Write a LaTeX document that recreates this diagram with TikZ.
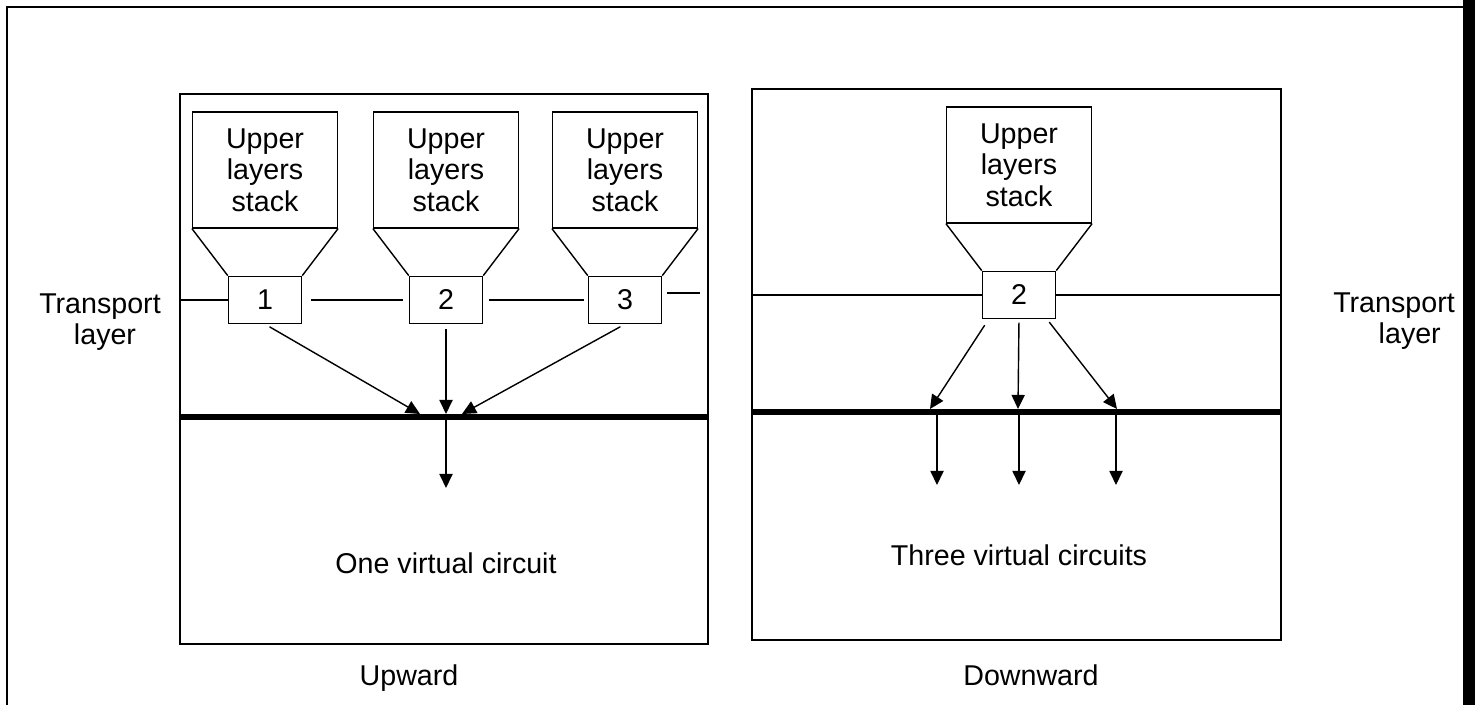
\documentclass[tikz,border=0pt]{standalone}
\usepackage{fontspec}
\setmainfont{Liberation Sans}
\usetikzlibrary{positioning,arrows.meta}

\begin{document}
\begin{tikzpicture}[x=0.02cm, y=-0.02cm, >={Triangle[length=8pt,width=7.5pt]},
  every node/.style={font=\fontsize{16.3}{18}\selectfont},
  stackbox/.style={draw, line width=0.7pt, align=center, minimum width=2.9cm, minimum height=2.32cm, inner sep=0pt},
  portbox/.style={draw, line width=0.9pt, minimum width=1.46cm, minimum height=0.94cm, inner sep=0pt},
  panel/.style={draw, line width=1.2pt},
  wire/.style={line width=0.8pt},
  bus/.style={line width=3pt},
  arr/.style={->, line width=0.8pt}]
  \useasboundingbox (0,0) rectangle (1475,705);
  % outer frame
  \draw[line width=1.2pt] (7,705) -- (7,7) -- (1463,7);
  \fill (1463,0) rectangle (1475,705);
  % side labels
  \node[align=center] (tlL) at (100,322) {Transport\\\hspace*{0.35em}layer};
  \node[align=center] (tlR) at (1394,321) {Transport\\\hspace*{1.1em}layer};
  % upward: three stacks onto one circuit
  \draw[panel] (180,94) rectangle (708,644);
  \foreach \i/\x in {1/265, 2/446, 3/625} {
    \node[stackbox] (upL\i) at (\x,170) {Upper\\layers\\stack};
    \node[portbox, below=0.94cm of upL\i] (portL\i) {\i};
    \draw[wire] (upL\i.south west) -- (portL\i.north west)
                (upL\i.south east) -- (portL\i.north east);
  }
  \coordinate (edgeL) at (180,298);
  \coordinate (endL) at (700,293);
  \draw[wire] (portL1.west -| edgeL) -- (portL1.west);
  \draw[wire] ([xshift=0.18cm]portL1.east) -- ([xshift=-0.12cm]portL2.west);
  \draw[wire] ([xshift=0.11cm]portL2.east) -- ([xshift=-0.07cm]portL3.west);
  \draw[wire] ([xshift=0.1cm]portL3.east |- endL) -- (endL);
  \draw[bus] (180,417) -- (708,417);
  \coordinate (inA) at (420,414);
  \coordinate (inB) at (446,414);
  \coordinate (inC) at (462,414);
  \coordinate (outL) at (446,488);
  \draw[arr, shorten <=3pt] (portL1.south) -- (inA);
  \draw[arr, shorten <=3pt] (portL2.south) -- (inB);
  \draw[arr, shorten <=3pt] (portL3.south) -- (inC);
  \draw[arr] (inB) -- (outL);
  \node (oneVC) at (446,563) {One virtual circuit};
  \node[anchor=base] (upw) at (409,686) {Upward};
  % downward: one stack onto three circuits
  \draw[panel] (752,89) rectangle (1281,640);
  \node[stackbox] (upR) at (1019,165) {Upper\\layers\\stack};
  \node[portbox, below=0.94cm of upR] (portR) {2};
  \draw[wire] (upR.south west) -- (portR.north west)
              (upR.south east) -- (portR.north east);
  \coordinate (edgeRw) at (752,298);
  \coordinate (edgeRe) at (1281,298);
  \draw[wire] (portR.west -| edgeRw) -- (portR.west)
              (portR.east) -- (portR.east -| edgeRe);
  \draw[bus] (752,412) -- (1281,412);
  \coordinate (hitA) at (930,409);
  \coordinate (hitB) at (1018,409);
  \coordinate (hitC) at (1117,409);
  \draw[arr] ([shift={(0.06cm,-0.12cm)}]portR.south west) -- (hitA);
  \draw[arr, shorten <=2pt] (portR.south) -- (hitB);
  \draw[arr] ([shift={(-0.14cm,-0.06cm)}]portR.south east) -- (hitC);
  \foreach \n/\x in {A/937, B/1019, C/1116} {
    \coordinate (from\n) at (\x,412);
    \coordinate (to\n) at (\x,485);
    \draw[arr] (from\n) -- (to\n);
  }
  \node (threeVC) at (1019,555) {Three virtual circuits};
  \node[anchor=base] (downw) at (1031,686) {Downward};
\end{tikzpicture}
\end{document}
